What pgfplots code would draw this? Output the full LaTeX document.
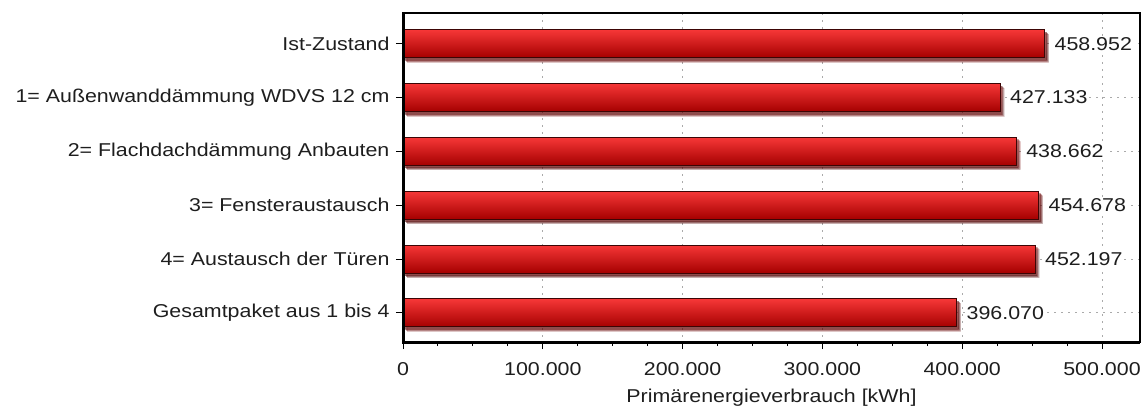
\documentclass[border=0pt]{standalone}
\usepackage{fontspec}
\setmainfont{Liberation Sans}[FakeStretch=1.15]
\usepackage{pgfplots}
\pgfplotsset{compat=1.18}
\usetikzlibrary{shadows}
\definecolor{barTop}{RGB}{246,55,55}
\definecolor{barMid}{RGB}{222,16,16}
\definecolor{barBot}{RGB}{165,0,0}
\definecolor{barEdge}{RGB}{60,5,5}
\definecolor{gridc}{RGB}{170,170,170}
\definecolor{txt}{RGB}{30,30,30}
\pgfplotsset{
  redbar/.style={xbar, bar shift=0pt, bar width=28pt, draw=barEdge, line width=1pt,
    top color=barTop, middle color=barMid, bottom color=barBot,
    drop shadow={shadow xshift=4pt, shadow yshift=-4.5pt, opacity=0.12, fill=black},
    drop shadow={shadow xshift=3pt, shadow yshift=-3.5pt, opacity=0.18, fill=black},
    drop shadow={shadow xshift=2pt, shadow yshift=-2.5pt, opacity=0.25, fill=black},
    nodes near coords={\pgfmathprintnumber[fixed,precision=0,1000 sep={.},assume math mode=true]{\pgfplotspointmeta}},
    point meta=x,
    every node near coord/.append style={fill=white, text=txt, anchor=west, xshift=8pt, inner sep=1.5pt, font=\fontsize{18.6}{22}\selectfont},
  },
}
\begin{document}
\begin{tikzpicture}[x=1pt,y=1pt]
\useasboundingbox (0,0) rectangle (1146,410);
\begin{axis}[
  at={(403pt,68pt)}, anchor=south west,
  scale only axis, width=737pt, height=329pt,
  xmin=0, xmax=527182,
  ymin=-0.57, ymax=5.54, y dir=reverse,
  ytick={0,1,2,3,4,5},
  yticklabels={Ist-Zustand, 1= Außenwanddämmung WDVS 12 cm, 2= Flachdachdämmung Anbauten, 3= Fensteraustausch, 4= Austausch der Türen, Gesamtpaket aus 1 bis 4},
  xtick={0,100000,200000,300000,400000,500000},
  minor x tick num=3,
  scaled x ticks=false,
  /pgf/number format/assume math mode=true,
  /pgf/number format/fixed,
  /pgf/number format/precision=0,
  /pgf/number format/1000 sep={.},
  tick align=outside, xtick pos=bottom, ytick pos=left,
  major tick length=7pt, minor tick length=4pt,
  tick style={black, line width=1pt},
  grid=major, major grid style={gridc, dash pattern=on 2pt off 5pt, line width=1pt},
  axis line style={black, line width=1.3pt},
  font=\fontsize{18.6}{22}\selectfont,
  every tick label/.append style={txt},
  xticklabel style={yshift=-10pt},
  yticklabel style={xshift=-3pt},
  xlabel={Primärenergieverbrauch [kWh]},
  x label style={anchor=center, at={(axis description cs:0.5,-0.170)}, txt},
  clip=false,
]
\addplot[redbar] coordinates {(458952,0)};
\addplot[redbar] coordinates {(427133,1)};
\addplot[redbar] coordinates {(438662,2)};
\addplot[redbar] coordinates {(454678,3)};
\addplot[redbar] coordinates {(452197,4)};
\addplot[redbar] coordinates {(396070,5)};
\draw[black, line width=3pt] (axis description cs:0,1) -- (axis description cs:0,0) -- (axis description cs:1,0);
\end{axis}
\end{tikzpicture}
\end{document}
